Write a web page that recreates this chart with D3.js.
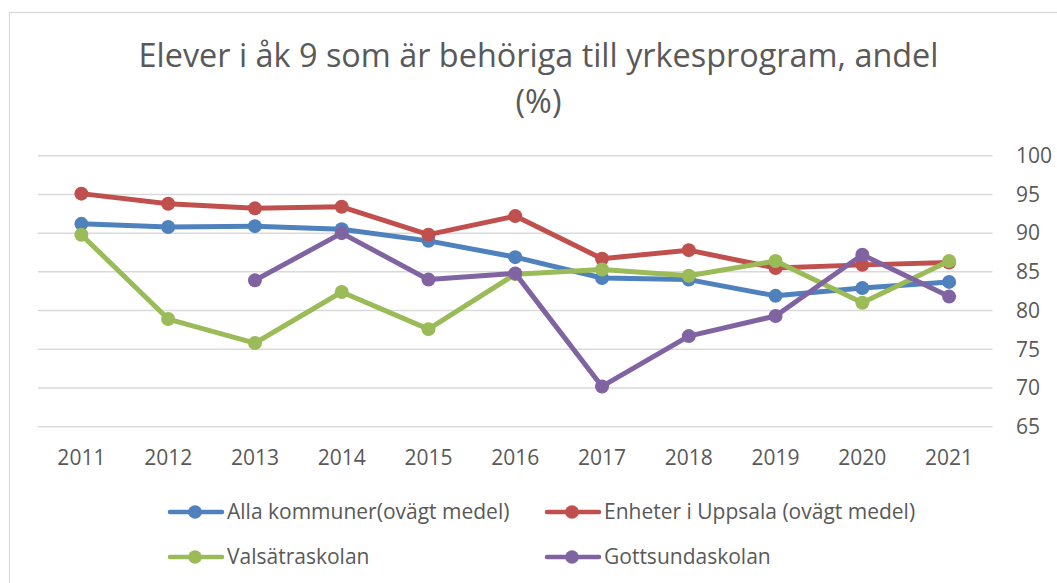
<!DOCTYPE html>
<html><head><meta charset="utf-8">
<script src="https://cdn.jsdelivr.net/npm/d3@7"></script>
<style>
html,body{margin:0;padding:0;background:#fff;}
svg{display:block;}
text{font-family:"Open Sans",sans-serif;fill:#595959;}
</style></head>
<body>
<svg id="c" width="1057" height="583"></svg>
<script>
const years = ["2011","2012","2013","2014","2015","2016","2017","2018","2019","2020","2021"];
const yTicks = [65,70,75,80,85,90,95,100];
const titleLines = ["Elever i åk 9 som är behöriga till yrkesprogram, andel", "(%)"];
const seriesNames = ["Alla kommuner(ovägt medel)", "Enheter i Uppsala (ovägt medel)", "Valsätraskolan", "Gottsundaskolan"];
const seriesColors = ["#4f81bd", "#c0504d", "#9bbb59", "#8064a2"];
const allaKommuner = [91.2, 90.8, 90.9, 90.5, 89.0, 86.9, 84.2, 84.0, 81.9, 82.9, 83.7];
const enheterUppsala = [95.1, 93.8, 93.2, 93.4, 89.8, 92.2, 86.7, 87.8, 85.5, 85.9, 86.2];
const valsatraskolan = [89.8, 78.9, 75.8, 82.4, 77.6, 84.7, 85.3, 84.5, 86.4, 81.0, 86.4];
const gottsundaskolan = [null, null, 83.9, 90.0, 84.0, 84.8, 70.2, 76.7, 79.3, 87.2, 81.8];
const seriesValues = [allaKommuner, enheterUppsala, valsatraskolan, gottsundaskolan];

const svg = d3.select("#c");
// chart border
svg.append("rect").attr("x",9.5).attr("y",12.5).attr("width",1100).attr("height",700)
  .attr("fill","none").attr("stroke","#d9d9d9").attr("stroke-width",1.2);

// title
const t = svg.append("text").attr("text-anchor","middle").style("font-size","32.4px");
titleLines.forEach((l,i)=>{
  t.append("tspan").attr("x",538.5).attr("y", i===0 ? 67 : 113).text(l);
});

const x = d3.scaleBand().domain(years).range([38, 992.5]);
const y = d3.scaleLinear().domain([65,100]).range([426.7, 155.7]);

// gridlines
svg.append("g").selectAll("line").data(yTicks).join("line")
  .attr("x1",38).attr("x2",992.5)
  .attr("y1",d=>y(d)).attr("y2",d=>y(d))
  .attr("stroke","#d9d9d9").attr("stroke-width",1.5);

// y axis on right
const ya = svg.append("g").attr("transform","translate(992.5,0)")
  .call(d3.axisRight(y).tickValues(yTicks).tickSize(0).tickPadding(23.5));
ya.select(".domain").remove();
ya.selectAll("text").style("font-size","21px").attr("fill","#595959").style("font-family","Open Sans");

// x axis
const xa = svg.append("g").attr("transform","translate(0,426.7)")
  .call(d3.axisBottom(x).tickSize(0).tickPadding(23));
xa.select(".domain").remove();
xa.selectAll("text").style("font-size","21px").attr("fill","#595959").style("font-family","Open Sans");

const line = d3.line().defined(d=>d!=null)
  .x((d,i)=>x(years[i])+x.bandwidth()/2).y(d=>y(d));

seriesValues.forEach((vals,si)=>{
  const g = svg.append("g");
  g.append("path").datum(vals).attr("d",line)
    .attr("fill","none").attr("stroke",seriesColors[si]).attr("stroke-width",5)
    .attr("stroke-linejoin","round").attr("stroke-linecap","round");
  g.selectAll("circle").data(vals.map((v,i)=>({v,i})).filter(d=>d.v!=null)).join("circle")
    .attr("cx",d=>x(years[d.i])+x.bandwidth()/2).attr("cy",d=>y(d.v)).attr("r",7)
    .attr("fill",seriesColors[si]);
});

// legend
const legPos = [[168,512],[545,512],[168,557],[545,557]];
seriesNames.forEach((n,i)=>{
  const [lx,ly] = legPos[i];
  const g = svg.append("g").attr("transform",`translate(${lx},${ly})`);
  g.append("line").attr("x1",2).attr("x2",54).attr("y1",0).attr("y2",0)
    .attr("stroke",seriesColors[i]).attr("stroke-width",4.5).attr("stroke-linecap","round");
  g.append("circle").attr("cx",27).attr("cy",0).attr("r",6.8).attr("fill",seriesColors[i]);
  g.append("text").attr("x",59).attr("y",0).attr("dy","0.35em").style("font-size","21px").text(n);
});
</script>
</body></html>
